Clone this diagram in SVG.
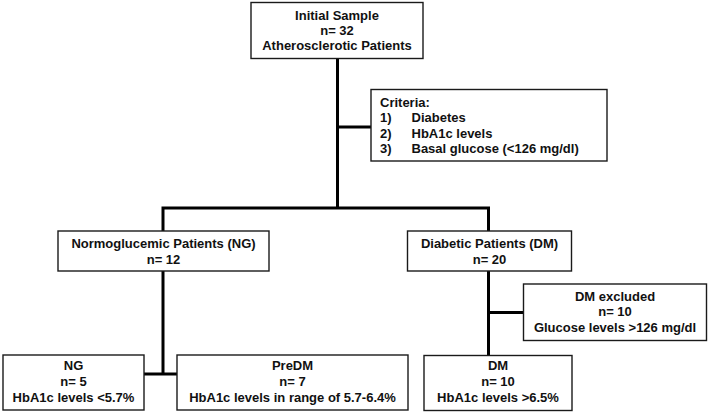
<svg xmlns="http://www.w3.org/2000/svg" width="710" height="414" viewBox="0 0 710 414">
<style>
.box{fill:#fff;stroke:#1a1a1a;stroke-width:1.4}
.t{font-family:"Liberation Sans",Arial,sans-serif;font-weight:bold;font-size:13px;fill:#111}
.c{text-anchor:middle}
.ln{fill:none;stroke:#000;stroke-width:3}
</style>
<rect width="710" height="414" fill="#fff"/>
<g id="connectors">
<path class="ln" d="M337.5 58 V208 M163 208 H488.5 M163 206.5 V231 M488.5 206.5 V231"/>
<path class="ln" d="M337.5 127 H371"/>
<path class="ln" d="M163 271 V374 M144 374 H177"/>
<path class="ln" d="M488.5 271 V355 M488.5 312.5 H523"/>
</g>
<g id="initial">
<rect class="box" x="251" y="2.5" width="172" height="56"/>
<text class="t c" x="337" y="19.5">Initial Sample</text>
<text class="t c" x="337" y="34.5">n= 32</text>
<text class="t c" x="337" y="49.5">Atherosclerotic Patients</text>
</g>
<g id="criteria">
<rect class="box" x="371" y="89.5" width="236" height="71.5"/>
<text class="t" x="380" y="106.5">Criteria:</text>
<text class="t" x="380" y="122">1)</text><text class="t" x="411.5" y="122">Diabetes</text>
<text class="t" x="380" y="137.5">2)</text><text class="t" x="411.5" y="137.5">HbA1c levels</text>
<text class="t" x="380" y="153">3)</text><text class="t" x="411.5" y="153">Basal glucose (&lt;126 mg/dl)</text>
</g>
<g id="ng-patients">
<rect class="box" x="58" y="231" width="211" height="40"/>
<text class="t c" x="163.5" y="247.5">Normoglucemic Patients (NG)</text>
<text class="t c" x="163.5" y="263.5">n= 12</text>
</g>
<g id="dm-patients">
<rect class="box" x="407.5" y="231" width="164" height="40"/>
<text class="t c" x="489.5" y="247.5">Diabetic Patients (DM)</text>
<text class="t c" x="489.5" y="263.5">n= 20</text>
</g>
<g id="dm-excluded">
<rect class="box" x="523.5" y="284" width="183" height="56.5"/>
<text class="t c" x="615" y="301">DM excluded</text>
<text class="t c" x="615" y="316">n= 10</text>
<text class="t c" x="615" y="331.5">Glucose levels &gt;126 mg/dl</text>
</g>
<g id="ng">
<rect class="box" x="3" y="355" width="141" height="55"/>
<text class="t c" x="73.5" y="370">NG</text>
<text class="t c" x="73.5" y="386">n= 5</text>
<text class="t c" x="73.5" y="402">HbA1c levels &lt;5.7%</text>
</g>
<g id="predm">
<rect class="box" x="177" y="355" width="231" height="55"/>
<text class="t c" x="292.5" y="370">PreDM</text>
<text class="t c" x="292.5" y="386">n= 7</text>
<text class="t c" x="292.5" y="402">HbA1c levels in range of 5.7-6.4%</text>
</g>
<g id="dm">
<rect class="box" x="424" y="355.5" width="148" height="55"/>
<text class="t c" x="498" y="370">DM</text>
<text class="t c" x="498" y="386">n= 10</text>
<text class="t c" x="498" y="402">HbA1c levels &gt;6.5%</text>
</g>
</svg>
